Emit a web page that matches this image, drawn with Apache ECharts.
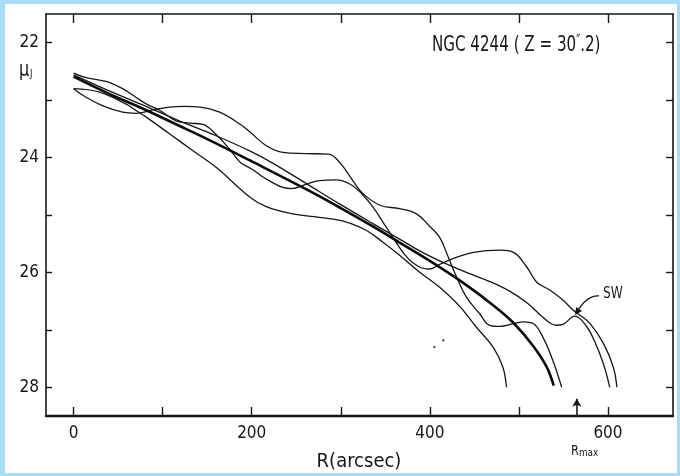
<!DOCTYPE html>
<html>
<head>
<meta charset="utf-8">
<script src="https://cdn.jsdelivr.net/npm/echarts@6/dist/echarts.min.js"></script>
<style>
html,body{margin:0;padding:0;background:#fff;}
#chart{position:absolute;left:0;top:0;width:680px;height:476px;}
#frame{position:absolute;left:0;top:0;width:680px;height:476px;box-sizing:border-box;border-style:solid;border-color:#a9dcf6;border-width:4px 3px 3px 5px;pointer-events:none;}
</style>
</head>
<body>
<div id="chart"></div>
<div id="frame"></div>
<script>
// ---- data ----
const xTicks = [0, 100, 200, 300, 400, 500, 600];
const xTickLabels = [0, 200, 400, 600];
const yTicks = [22, 23, 24, 25, 26, 27, 28];
const yTickLabels = [22, 24, 26, 28];

const rA  = [0, 14, 33, 55, 70, 89, 108, 125, 142, 164, 187, 200, 216, 235, 261, 286, 295, 306, 316, 325, 344, 366, 385, 400, 411, 419, 430, 441, 456, 467, 479, 494, 505, 516, 527, 538, 548];
const muA = [22.8, 22.95, 23.1, 23.21, 23.23, 23.17, 23.12, 23.11, 23.12, 23.21, 23.42, 23.58, 23.79, 23.91, 23.93, 23.94, 24.02, 24.23, 24.46, 24.63, 24.83, 24.89, 24.98, 25.2, 25.39, 25.67, 26.08, 26.43, 26.72, 26.92, 26.94, 26.89, 26.86, 26.89, 27.13, 27.53, 28.0];

const rB  = [0, 29, 59, 70, 82, 108, 134, 160, 198, 217, 246, 270, 291, 310, 329, 347, 366, 389, 411, 434, 452, 471, 482, 486];
const muB = [22.8, 22.86, 23.07, 23.18, 23.3, 23.59, 23.88, 24.17, 24.69, 24.86, 24.98, 25.03, 25.07, 25.14, 25.27, 25.47, 25.7, 26.0, 26.26, 26.6, 26.95, 27.3, 27.65, 28.0];

const rC  = [0, 14, 29, 40, 55, 70, 82, 97, 115, 130, 145, 160, 175, 187, 200, 215, 235, 245, 260, 276, 295, 310, 323, 336, 351, 374, 389, 400, 411, 426, 449, 479, 494, 509, 520, 535, 550, 561, 569, 580, 595, 606, 610];
const muC = [22.53, 22.61, 22.65, 22.69, 22.8, 22.95, 23.07, 23.18, 23.36, 23.4, 23.42, 23.6, 23.85, 24.08, 24.2, 24.36, 24.52, 24.54, 24.47, 24.4, 24.39, 24.46, 24.62, 24.86, 25.21, 25.73, 25.91, 25.94, 25.86, 25.76, 25.65, 25.61, 25.65, 25.91, 26.17, 26.31, 26.49, 26.66, 26.75, 26.89, 27.24, 27.65, 28.0];

const rE  = [0, 40, 80, 120, 160, 200, 224, 261, 300, 336, 366, 389, 411, 441, 466, 490, 510, 524, 535, 542, 550, 563, 575, 585, 595, 602];
const muE = [22.56, 22.84, 23.1, 23.37, 23.62, 23.9, 24.1, 24.45, 24.82, 25.15, 25.42, 25.63, 25.8, 26.0, 26.15, 26.33, 26.54, 26.74, 26.88, 26.92, 26.9, 26.76, 26.92, 27.2, 27.6, 28.0];

const rMean  = [0, 40, 78, 115, 153, 198, 261, 300, 336, 366, 400, 441, 471, 494, 516, 531, 539];
const muMean = [22.59, 22.89, 23.15, 23.42, 23.7, 24.05, 24.55, 24.88, 25.2, 25.48, 25.8, 26.22, 26.57, 26.88, 27.28, 27.64, 27.97];

const specksR  = [415, 405];
const specksMu = [27.18, 27.3];

const rMax = 565;
const rMaxArrow = [28.5, 28.2];
const swPoint = [563, 26.74];

// ---- chart ----
const zip = (a, b) => a.map((v, i) => [v, b[i]]);
const FONT = '"Liberation Sans Narrow", "DejaVu Sans Condensed", "Liberation Sans", sans-serif';
const INK = '#161616';

const chart = echarts.init(document.getElementById('chart'), null, {renderer: 'canvas'});

function thin(name, r, m) {
  return {name, type: 'line', data: zip(r, m), showSymbol: false, smooth: 0.4,
    lineStyle: {color: INK, width: 1.3}, silent: true, z: 3};
}

const axisCommonX = {
  type: 'value', min: -31, max: 673,
  splitLine: {show: false},
  axisLine: {show: true, onZero: false, lineStyle: {color: INK, width: 2}},
};
const axisCommonY = {
  type: 'value', min: 21.5, max: 28.5, inverse: true,
  splitLine: {show: false},
  axisLine: {show: true, onZero: false, lineStyle: {color: INK, width: 1.6}},
};

const option = {
  animation: false,
  backgroundColor: '#ffffff',
  grid: {left: 46, right: 7, top: 14, bottom: 60, containLabel: false, show: false},
  xAxis: [
    Object.assign({}, axisCommonX, {
      position: 'bottom',
      axisLine: {show: true, onZero: false, lineStyle: {color: INK, width: 2.4}},
      axisTick: {show: true, inside: true, length: 9, customValues: xTicks, lineStyle: {color: INK, width: 1.4}},
      axisLabel: {show: true, customValues: xTickLabels, margin: 9, color: INK, fontSize: 17, fontFamily: FONT}
    }),
    Object.assign({}, axisCommonX, {
      position: 'top',
      axisLine: {show: true, onZero: false, lineStyle: {color: INK, width: 1.6}},
      axisTick: {show: true, inside: true, length: 9, customValues: xTicks, lineStyle: {color: INK, width: 1.4}},
      axisLabel: {show: false}
    })
  ],
  yAxis: [
    Object.assign({}, axisCommonY, {
      position: 'left',
      axisTick: {show: true, inside: true, length: 6, customValues: yTicks, lineStyle: {color: INK, width: 1.4}},
      axisLabel: {show: true, customValues: yTickLabels, margin: 7, color: INK, fontSize: 17, fontFamily: FONT}
    }),
    Object.assign({}, axisCommonY, {
      position: 'right',
      axisTick: {show: true, inside: true, length: 7, customValues: yTicks, lineStyle: {color: INK, width: 1.4}},
      axisLabel: {show: false}
    })
  ],
  series: [
    thin('A', rA, muA),
    thin('B', rB, muB),
    thin('C', rC, muC),
    thin('E', rE, muE),
    {name: 'mean', type: 'line', data: zip(rMean, muMean), showSymbol: false, smooth: 0.4,
      lineStyle: {color: '#0a0a0a', width: 2.6}, silent: true, z: 4,
      markLine: {silent: true, symbol: ['none', 'arrow'], symbolSize: [7, 8], label: {show: false},
        lineStyle: {color: INK, width: 1.6, type: 'solid'},
        data: [[{coord: [rMax, rMaxArrow[0]]}, {coord: [rMax, rMaxArrow[1]]}]]}
    },
    {name: 'specks', type: 'scatter', data: zip(specksR, specksMu), symbolSize: 2.5,
      itemStyle: {color: '#333'}, silent: true}
  ]
};
chart.setOption(option);

// annotations
const sw = chart.convertToPixel({xAxisIndex: 0, yAxisIndex: 0}, swPoint);
const tip = [sw[0] + 2, sw[1] - 3];
const start = [sw[0] + 24, sw[1] - 19];
chart.setOption({
  graphic: [
    {type: 'text', x: 432, y: 35, scaleX: 0.8, style: {
      text: '{a|NGC 4244 ( Z = 30}{s|″}{a|.2)}',
      rich: {a: {fontSize: 21, fontFamily: FONT, fill: INK}, s: {fontSize: 15, fontFamily: FONT, fill: INK, padding: [0, 0, 6, 0]}},
      fill: INK}},
    {type: 'text', x: 19, y: 60, scaleX: 0.85, style: {
      text: '{m|μ}{j|J}',
      rich: {m: {fontSize: 21, fontFamily: FONT, fill: INK}, j: {fontSize: 11, fontFamily: FONT, fill: INK, padding: [8, 0, 0, 1]}}}},
    {type: 'text', x: 359, y: 452, style: {text: 'R(arcsec)', fontSize: 20, fontFamily: FONT, fill: INK, align: 'center'}},
    {type: 'text', x: 571, y: 443, scaleX: 0.9, style: {
      text: '{r|R}{s|max}',
      rich: {r: {fontSize: 14, fontFamily: FONT, fill: INK}, s: {fontSize: 11, fontFamily: FONT, fill: INK, padding: [5, 0, 0, 0]}}}},
    {type: 'text', x: start[0] + 4, y: start[1] - 9, scaleX: 0.9, style: {text: 'SW', fontSize: 15, fontFamily: FONT, fill: INK}},
    {type: 'bezierCurve', shape: {x1: start[0], y1: start[1], x2: tip[0], y2: tip[1], cpx1: start[0] - 12, cpy1: start[1] - 1},
      style: {stroke: INK, lineWidth: 1.4, fill: null}},
    {type: 'polygon', shape: {points: [[tip[0] - 2, tip[1] + 3], [tip[0] - 1, tip[1] - 5], [tip[0] + 5, tip[1] - 1]]},
      style: {fill: INK}}
  ]
});
</script>
</body>
</html>
